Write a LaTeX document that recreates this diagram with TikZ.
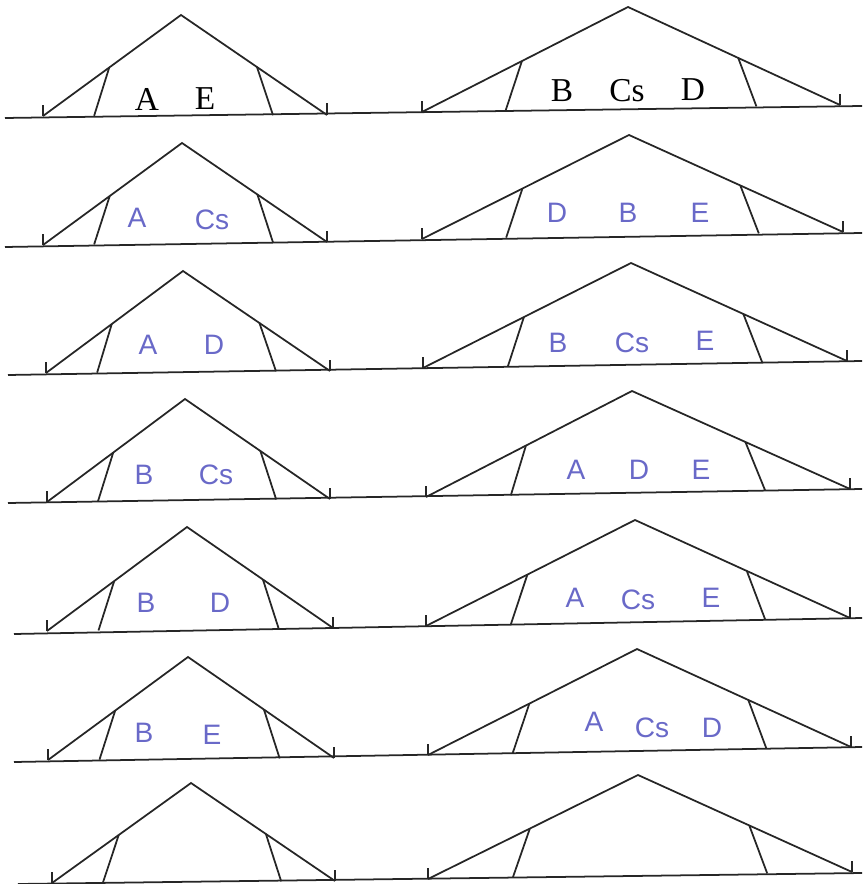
\documentclass[tikz,border=0pt]{standalone}
\usepackage{fontspec}
\setmainfont{Liberation Serif}
\newfontfamily\penna{Liberation Sans}
\usetikzlibrary{calc}

\begin{document}
\begin{tikzpicture}[x=0.02cm, y=-0.02cm,
    linea/.style={line width=1pt, black!85},
    stampato/.style={font=\fontsize{19}{22}\selectfont, inner sep=0pt},
    scritto/.style={font=\penna\fontsize{16}{19}\selectfont, text=inchiostro, inner sep=0pt}]
    % Definizione colori
    \definecolor{inchiostro}{RGB}{105,105,200}

    % Cornice (dimensioni della scansione)
    \useasboundingbox (0,0) rectangle (862,884);

    % ---------------- Riga 1 ----------------
    \coordinate (b1s) at (5,118); \coordinate (b1d) at (862,106);
    \draw[linea] (b1s) -- (b1d);
    % Capriata piccola
    \coordinate (p1s) at (43,116); \coordinate (p1t) at (181,15); \coordinate (p1d) at (327,115);
    \draw[linea] (p1s) -- (p1t) -- (p1d);
    \draw[linea] ($(p1s)!0.48!(p1t)$) -- ($(p1s)!0.18!(p1d)$);
    \draw[linea] ($(p1d)!0.48!(p1t)$) -- ($(p1d)!0.19!(p1s)$);
    \draw[linea] (p1s) -- ++(0,-11);
    \draw[linea] (p1d) -- ++(0,-12);
    % Capriata grande
    \coordinate (g1s) at (422,112); \coordinate (g1t) at (628,7); \coordinate (g1d) at (840,105);
    \draw[linea] (g1s) -- (g1t) -- (g1d);
    \draw[linea] ($(g1s)!0.485!(g1t)$) -- ($(g1s)!0.2!(g1d)$);
    \draw[linea] ($(g1d)!0.48!(g1t)$) -- ($(g1d)!0.2!(g1s)$);
    \draw[linea] (g1s) -- ++(0,-11);
    \draw[linea] (g1d) -- ++(0,-11);
    % Etichette
    \node[stampato] (e1a) at (147,99) {A};
    \node[stampato] (e1b) at (205,99) {E};
    \node[stampato] (e1c) at (562,91) {B};
    \node[stampato] (e1d) at (627,91) {Cs};
    \node[stampato] (e1e) at (693,90) {D};

    % ---------------- Riga 2 ----------------
    \coordinate (b2s) at (5,247); \coordinate (b2d) at (862,233);
    \draw[linea] (b2s) -- (b2d);
    \coordinate (p2s) at (43,245); \coordinate (p2t) at (182,143); \coordinate (p2d) at (327,242);
    \draw[linea] (p2s) -- (p2t) -- (p2d);
    \draw[linea] ($(p2s)!0.48!(p2t)$) -- ($(p2s)!0.18!(p2d)$);
    \draw[linea] ($(p2d)!0.48!(p2t)$) -- ($(p2d)!0.19!(p2s)$);
    \draw[linea] (p2s) -- ++(0,-11);
    \draw[linea] (p2d) -- ++(0,-11);
    \coordinate (g2s) at (422,239); \coordinate (g2t) at (629,135); \coordinate (g2d) at (843,232);
    \draw[linea] (g2s) -- (g2t) -- (g2d);
    \draw[linea] ($(g2s)!0.485!(g2t)$) -- ($(g2s)!0.2!(g2d)$);
    \draw[linea] ($(g2d)!0.48!(g2t)$) -- ($(g2d)!0.2!(g2s)$);
    \draw[linea] (g2s) -- ++(0,-11);
    \draw[linea] (g2d) -- ++(0,-11);
    \node[scritto] (e2a) at (137,218) {A};
    \node[scritto] (e2b) at (212,220) {Cs};
    \node[scritto] (e2c) at (557,213) {D};
    \node[scritto] (e2d) at (628,213) {B};
    \node[scritto] (e2e) at (700,213) {E};

    % ---------------- Riga 3 ----------------
    \coordinate (b3s) at (8,375); \coordinate (b3d) at (862,361);
    \draw[linea] (b3s) -- (b3d);
    \coordinate (p3s) at (46,373); \coordinate (p3t) at (183,271); \coordinate (p3d) at (330,371);
    \draw[linea] (p3s) -- (p3t) -- (p3d);
    \draw[linea] ($(p3s)!0.48!(p3t)$) -- ($(p3s)!0.18!(p3d)$);
    \draw[linea] ($(p3d)!0.48!(p3t)$) -- ($(p3d)!0.19!(p3s)$);
    \draw[linea] (p3s) -- ++(0,-11);
    \draw[linea] (p3d) -- ++(0,-11);
    \coordinate (g3s) at (423,368); \coordinate (g3t) at (631,263); \coordinate (g3d) at (847,361);
    \draw[linea] (g3s) -- (g3t) -- (g3d);
    \draw[linea] ($(g3s)!0.485!(g3t)$) -- ($(g3s)!0.2!(g3d)$);
    \draw[linea] ($(g3d)!0.48!(g3t)$) -- ($(g3d)!0.2!(g3s)$);
    \draw[linea] (g3s) -- ++(0,-11);
    \draw[linea] (g3d) -- ++(0,-11);
    \node[scritto] (e3a) at (148,345) {A};
    \node[scritto] (e3b) at (214,345) {D};
    \node[scritto] (e3c) at (558,343) {B};
    \node[scritto] (e3d) at (632,343) {Cs};
    \node[scritto] (e3e) at (705,341) {E};

    % ---------------- Riga 4 ----------------
    \coordinate (b4s) at (8,503); \coordinate (b4d) at (862,489);
    \draw[linea] (b4s) -- (b4d);
    \coordinate (p4s) at (47,502); \coordinate (p4t) at (185,399); \coordinate (p4d) at (330,499);
    \draw[linea] (p4s) -- (p4t) -- (p4d);
    \draw[linea] ($(p4s)!0.48!(p4t)$) -- ($(p4s)!0.18!(p4d)$);
    \draw[linea] ($(p4d)!0.48!(p4t)$) -- ($(p4d)!0.19!(p4s)$);
    \draw[linea] (p4s) -- ++(0,-11);
    \draw[linea] (p4d) -- ++(0,-11);
    \coordinate (g4s) at (426,497); \coordinate (g4t) at (632,391); \coordinate (g4d) at (850,489);
    \draw[linea] (g4s) -- (g4t) -- (g4d);
    \draw[linea] ($(g4s)!0.485!(g4t)$) -- ($(g4s)!0.2!(g4d)$);
    \draw[linea] ($(g4d)!0.48!(g4t)$) -- ($(g4d)!0.2!(g4s)$);
    \draw[linea] (g4s) -- ++(0,-11);
    \draw[linea] (g4d) -- ++(0,-11);
    \node[scritto] (e4a) at (144,475) {B};
    \node[scritto] (e4b) at (216,475) {Cs};
    \node[scritto] (e4c) at (576,470) {A};
    \node[scritto] (e4d) at (639,470) {D};
    \node[scritto] (e4e) at (701,470) {E};

    % ---------------- Riga 5 ----------------
    \coordinate (b5s) at (14,634); \coordinate (b5d) at (862,618);
    \draw[linea] (b5s) -- (b5d);
    \coordinate (p5s) at (47,631); \coordinate (p5t) at (187,527); \coordinate (p5d) at (333,628);
    \draw[linea] (p5s) -- (p5t) -- (p5d);
    \draw[linea] ($(p5s)!0.48!(p5t)$) -- ($(p5s)!0.18!(p5d)$);
    \draw[linea] ($(p5d)!0.48!(p5t)$) -- ($(p5d)!0.19!(p5s)$);
    \draw[linea] (p5s) -- ++(0,-11);
    \draw[linea] (p5d) -- ++(0,-11);
    \coordinate (g5s) at (426,626); \coordinate (g5t) at (635,520); \coordinate (g5d) at (850,618);
    \draw[linea] (g5s) -- (g5t) -- (g5d);
    \draw[linea] ($(g5s)!0.485!(g5t)$) -- ($(g5s)!0.2!(g5d)$);
    \draw[linea] ($(g5d)!0.48!(g5t)$) -- ($(g5d)!0.2!(g5s)$);
    \draw[linea] (g5s) -- ++(0,-11);
    \draw[linea] (g5d) -- ++(0,-11);
    \node[scritto] (e5a) at (146,603) {B};
    \node[scritto] (e5b) at (220,603) {D};
    \node[scritto] (e5c) at (575,598) {A};
    \node[scritto] (e5d) at (638,600) {Cs};
    \node[scritto] (e5e) at (711,598) {E};

    % ---------------- Riga 6 ----------------
    \coordinate (b6s) at (14,762); \coordinate (b6d) at (862,747);
    \draw[linea] (b6s) -- (b6d);
    \coordinate (p6s) at (48,760); \coordinate (p6t) at (188,657); \coordinate (p6d) at (334,758);
    \draw[linea] (p6s) -- (p6t) -- (p6d);
    \draw[linea] ($(p6s)!0.48!(p6t)$) -- ($(p6s)!0.18!(p6d)$);
    \draw[linea] ($(p6d)!0.48!(p6t)$) -- ($(p6d)!0.19!(p6s)$);
    \draw[linea] (p6s) -- ++(0,-11);
    \draw[linea] (p6d) -- ++(0,-11);
    \coordinate (g6s) at (428,755); \coordinate (g6t) at (637,649); \coordinate (g6d) at (851,747);
    \draw[linea] (g6s) -- (g6t) -- (g6d);
    \draw[linea] ($(g6s)!0.485!(g6t)$) -- ($(g6s)!0.2!(g6d)$);
    \draw[linea] ($(g6d)!0.48!(g6t)$) -- ($(g6d)!0.2!(g6s)$);
    \draw[linea] (g6s) -- ++(0,-11);
    \draw[linea] (g6d) -- ++(0,-11);
    \node[scritto] (e6a) at (144,733) {B};
    \node[scritto] (e6b) at (212,735) {E};
    \node[scritto] (e6c) at (594,722) {A};
    \node[scritto] (e6d) at (652,728) {Cs};
    \node[scritto] (e6e) at (712,728) {D};

    % ---------------- Riga 7 (vuota) ----------------
    \coordinate (b7s) at (18,884); \coordinate (b7d) at (862,873);
    \draw[linea] (b7s) -- (b7d);
    \coordinate (p7s) at (52,883); \coordinate (p7t) at (191,783); \coordinate (p7d) at (335,881);
    \draw[linea] (p7s) -- (p7t) -- (p7d);
    \draw[linea] ($(p7s)!0.48!(p7t)$) -- ($(p7s)!0.18!(p7d)$);
    \draw[linea] ($(p7d)!0.48!(p7t)$) -- ($(p7d)!0.19!(p7s)$);
    \draw[linea] (p7s) -- ++(0,-11);
    \draw[linea] (p7d) -- ++(0,-11);
    \coordinate (g7s) at (428,879); \coordinate (g7t) at (638,775); \coordinate (g7d) at (852,872);
    \draw[linea] (g7s) -- (g7t) -- (g7d);
    \draw[linea] ($(g7s)!0.485!(g7t)$) -- ($(g7s)!0.2!(g7d)$);
    \draw[linea] ($(g7d)!0.48!(g7t)$) -- ($(g7d)!0.2!(g7s)$);
    \draw[linea] (g7s) -- ++(0,-11);
    \draw[linea] (g7d) -- ++(0,-11);

\end{tikzpicture}
\end{document}
